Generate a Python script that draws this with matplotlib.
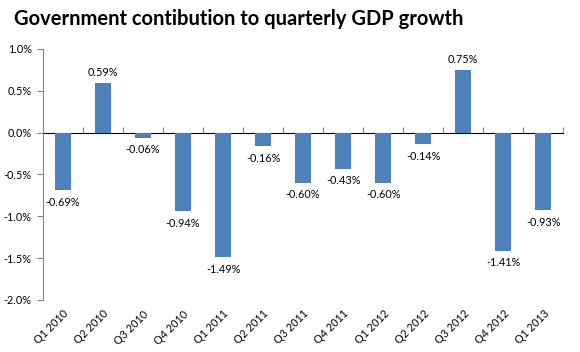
import matplotlib; matplotlib.use("Agg")
import matplotlib.pyplot as plt
import numpy as np

quarters = ["Q1 2010", "Q2 2010", "Q3 2010", "Q4 2010", "Q1 2011", "Q2 2011", "Q3 2011",
            "Q4 2011", "Q1 2012", "Q2 2012", "Q3 2012", "Q4 2012", "Q1 2013"]
contrib = [-0.69, 0.59, -0.06, -0.94, -1.49, -0.16, -0.60, -0.43, -0.60, -0.14, 0.75, -1.41, -0.93]

plt.rcParams["font.family"] = ["Lato", "DejaVu Sans"]
fig = plt.figure(figsize=(5.8, 3.52), dpi=100)
ax = fig.add_axes([0.074, 0.148, 0.897, 0.713])
x = np.arange(len(quarters))
ax.bar(x, contrib, width=0.4, color="#4F81BD")
ax.set_xlim(-0.5, len(quarters) - 0.5)
ax.set_ylim(-2.0, 1.0)
ax.set_yticks(np.arange(-2.0, 1.01, 0.5))
ax.set_yticklabels([f"{v:.1f}%" for v in np.arange(-2.0, 1.01, 0.5)], fontsize=7.8)
ax.set_xticks(x)
ax.set_xticklabels(quarters, rotation=45, ha="right", rotation_mode="anchor", fontsize=7.8)
ax.tick_params(axis="x", length=0, pad=6)
ax.tick_params(axis="y", length=4, color="#868686", pad=4)
for s in ["top", "right", "bottom"]:
    ax.spines[s].set_visible(False)
ax.spines["left"].set_color("#868686")

# zero axis with category boundary ticks
zx = ax.secondary_xaxis(2 / 3)
zx.set_xticks(np.arange(-0.5, len(quarters), 1.0))
zx.set_xticklabels([])
zx.tick_params(direction="out", length=4, color="#868686")
zx.spines["bottom"].set_color("#868686")

for xi, v in zip(x, contrib):
    off = 0.06 if v > 0 else -0.08
    ax.text(xi, v + off, f"{v:.2f}%", ha="center", va="bottom" if v > 0 else "top", fontsize=7.8)

fig.text(0.024, 0.945, "Government contibution to quarterly GDP growth", fontsize=14.5,
         fontweight="bold", va="center", ha="left")
fig.savefig("out.png", dpi=100)
